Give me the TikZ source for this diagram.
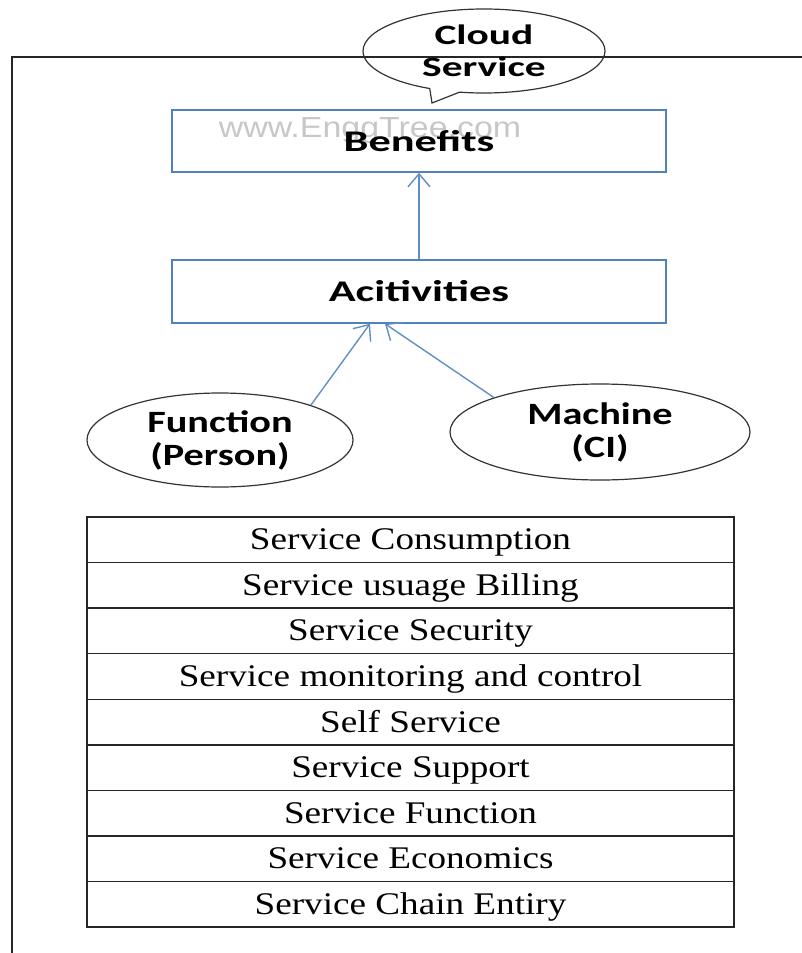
\documentclass[tikz,border=0pt]{standalone}
\usepackage{fontspec}
\usetikzlibrary{positioning,shapes.geometric,shapes.callouts,arrows.meta}
\newfontfamily\labelfont{Carlito}[FakeStretch=1.3]
\newfontfamily\headfont{Carlito}[FakeStretch=1.48]
\newfontfamily\rowfont{Liberation Serif}[FakeStretch=1.18]
\newfontfamily\markfont{Liberation Sans}[FakeStretch=1.17]
\definecolor{boxblue}{RGB}{79,129,189}

\begin{document}
\begin{tikzpicture}[
	x=1pt, y=-1pt,
	frame line/.style={line width=1.3pt, black!85},
	blue box/.style={draw=boxblue, line width=1.5pt, minimum width=494pt,
		minimum height=62pt, font=\headfont\bfseries\fontsize{30}{36}\selectfont},
	bubble/.style={draw=black!80, line width=1.2pt, align=center, inner sep=0pt,
		font=\labelfont\bfseries\fontsize{31}{33}\selectfont},
	link/.style={->, >={Straight Barb[length=13pt, width=22pt]}, draw=boxblue!90,
		line width=1.4pt},
	row/.style={draw=black!85, line width=1.4pt, minimum width=647pt,
		minimum height=45.56pt, inner sep=0pt, outer sep=0pt, text height=22pt,
		text depth=2pt, font=\rowfont\fontsize{31.5}{37}\selectfont}
	]
	\useasboundingbox (0,0) rectangle (802,953);
	% frame
	\draw[frame line] (802,57) -- (12,57) -- (12,953);
	% top part
	\node[bubble, ellipse callout, callout absolute pointer={(432,103)},
		minimum width=242pt, minimum height=84pt,
		font=\headfont\bfseries\fontsize{28}{32}\selectfont] (cloud) at (484,51)
	{Cloud\\Service};
	\node[text=black!22, font=\markfont\fontsize{29}{34}\selectfont] (mark) at (370,131)
	{www.EnggTree.com};
	\node[blue box] (bene) at (419,141) {Benefits};
	\node[blue box, minimum height=63pt] (acts) at (419,291.5) {Acitivities};
	\node[bubble, ellipse, minimum width=266pt, minimum height=94pt] (func) at (220,440)
	{Function\\(Person)};
	\node[bubble, ellipse, minimum width=300pt, minimum height=96pt] (mach) at (600,432)
	{Machine\\(CI)};
	% arrows
	\draw[link] (acts.north) -- (bene.south);
	\draw[link] (func.21) -- ([xshift=-49pt]acts.south);
	\draw[link] (mach.162) -- ([xshift=-34pt]acts.south);
	% table
	\coordinate (r0) at (410.5,517);
	\foreach \txt [count=\i] in {Service Consumption, Service usuage Billing,
		Service Security, Service monitoring and control, Self Service,
		Service Support, Service Function, Service Economics, Service Chain Entiry}
	{
		\pgfmathtruncatemacro\prev{\i-1}
		\node[row, below=0pt of r\prev] (r\i) {\txt};
	}
\end{tikzpicture}
\end{document}
